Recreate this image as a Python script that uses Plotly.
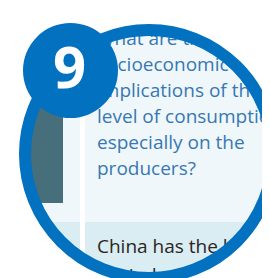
import numpy as np
import plotly.graph_objects as go

# ---- content ----
badge_number = "9"
question_lines = ["What are the", "socioeconomic", "implications of the",
                  "level of consumption,", "especially on the", "producers?"]
answer_lines = ["China has the largest", "pig industry in the world"]

# ---- style / layout ----
W, H = 270, 278
BLUE = "#0171c0"
PANEL = "#eff7fa"
BAND = "#daedf3"
SLATE = "#476e7b"
QCOL = "#3877b3"
ACOL = "#2b2622"
FONT = "Open Sans"
FS = 19
cx, cy, r_mid, ring_w = 141, 146, 124, 12
bx, by, br = 62.5, 62.5, 47.5
text_x = 89
q_base0, line_gap = 39, 26
a_base0, a_gap = 247, 29

fig = go.Figure()

q_y = [q_base0 + i * line_gap - 0.35 * FS for i in range(len(question_lines))]
a_y = [a_base0 + i * a_gap - 0.35 * FS for i in range(len(answer_lines))]

fig.add_trace(go.Scatter(x=[text_x] * len(question_lines), y=q_y, text=question_lines,
                         mode="text", textposition="middle right",
                         textfont=dict(family=FONT, size=FS, color=QCOL),
                         hoverinfo="skip", showlegend=False))
fig.add_trace(go.Scatter(x=[text_x] * len(answer_lines), y=a_y, text=answer_lines,
                         mode="text", textposition="middle right",
                         textfont=dict(family=FONT, size=FS, color=ACOL),
                         hoverinfo="skip", showlegend=False))

shapes = []
# background panels (below text)
shapes.append(dict(type="rect", x0=0, x1=W, y0=0, y1=214, fillcolor=PANEL, line_width=0, layer="below"))
shapes.append(dict(type="rect", x0=0, x1=W, y0=214, y1=H, fillcolor=BAND, line_width=0, layer="below"))
shapes.append(dict(type="rect", x0=0, x1=55, y0=60, y1=195, fillcolor=SLATE, line_width=0, layer="below"))
shapes.append(dict(type="rect", x0=72, x1=77, y0=0, y1=H, fillcolor="white", line_width=0, layer="below"))

# white mask outside the circle (above text)
ang = np.linspace(0, 2 * np.pi, 181)
circ = " ".join(f"L{cx + r_mid * np.cos(a):.2f},{cy + r_mid * np.sin(a):.2f}" for a in ang[1:])
p0 = f"M{cx + r_mid:.2f},{cy:.2f} " + circ + " Z"
mask_path = f"M-5,-5 L{W+5},-5 L{W+5},{H+5} L-5,{H+5} Z " + p0
shapes.append(dict(type="path", path=mask_path, fillcolor="white", line_width=0,
                   fillrule="evenodd", layer="above"))
# ring
shapes.append(dict(type="circle", x0=cx - r_mid, x1=cx + r_mid, y0=cy - r_mid, y1=cy + r_mid,
                   line=dict(color=BLUE, width=ring_w), fillcolor="rgba(0,0,0,0)", layer="above"))
# badge
shapes.append(dict(type="circle", x0=bx - br, x1=bx + br, y0=by - br, y1=by + br,
                   line_width=0, fillcolor=BLUE, layer="above"))

fig.update_layout(
    width=W, height=H, margin=dict(l=0, r=0, t=0, b=0),
    paper_bgcolor="white", plot_bgcolor="white",
    xaxis=dict(range=[0, W], visible=False, fixedrange=True),
    yaxis=dict(range=[H, 0], visible=False, fixedrange=True),
    shapes=shapes,
    annotations=[dict(x=bx - 1, y=by - 5, xref="x", yref="y", text=f"<b>{badge_number}</b>",
                      showarrow=False, font=dict(family=FONT, size=58, color="white"),
                      xanchor="center", yanchor="middle")],
)

fig.write_html("out.html")
